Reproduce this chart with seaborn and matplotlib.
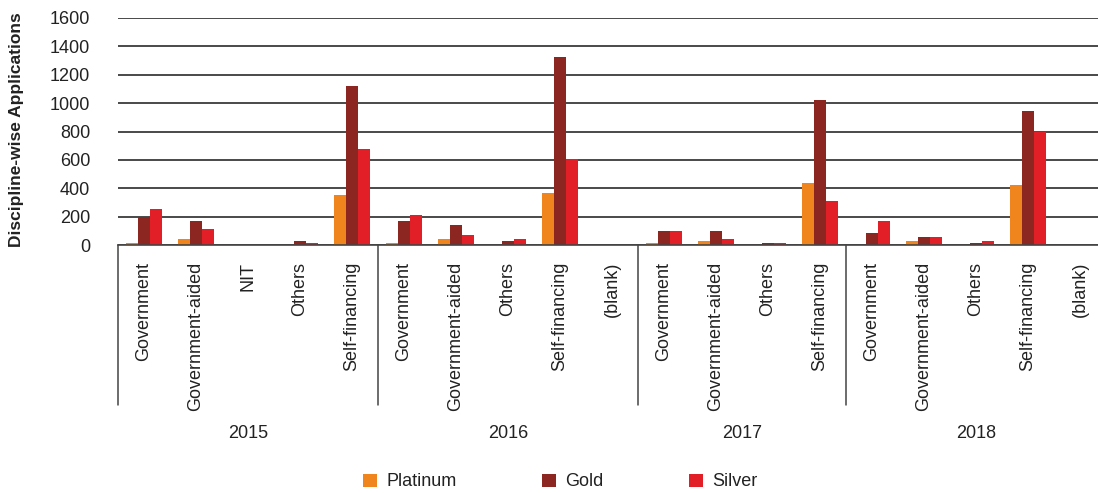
import pandas as pd
import matplotlib.pyplot as plt
import seaborn as sns


OUTPUT_FILE = "out.png"

# categories per year (multi-level x axis)
years = ["2015", "2016", "2017", "2018"]
year_categories = [
    ["Government", "Government-aided", "NIT", "Others", "Self-financing"],
    ["Government", "Government-aided", "Others", "Self-financing", "(blank)"],
    ["Government", "Government-aided", "Others", "Self-financing"],
    ["Government", "Government-aided", "Others", "Self-financing", "(blank)"],
]

series = ["Platinum", "Gold", "Silver"]

# values in slot order (2015 .. 2018, categories as above)
platinum = [15, 42, 0, 3, 355,
            14, 42, 3, 368, 0,
            14, 25, 1, 438,
            2, 28, 2, 422, 3]
gold = [200, 170, 3, 25, 1124,
        169, 143, 25, 1325, 3,
        96, 96, 14, 1025,
        84, 54, 14, 941, 0]
silver = [255, 112, 0, 14, 680,
          213, 70, 42, 608, 0,
          96, 42, 13, 310,
          169, 54, 25, 800, 0]

colors = ["#EF851C", "#8C2621", "#E21F26"]


##############################################################################
# TABLE
##############################################################################

slots = []
labels = []
for y, cats in zip(years, year_categories):
    for c in cats:
        slots.append(f"{y}|{c}")
        labels.append(c)

rows = []
for name, vals in zip(series, [platinum, gold, silver]):
    for s, v in zip(slots, vals):
        rows.append({"slot": s, "series": name, "value": v})
df = pd.DataFrame(rows)


##############################################################################
# PLOT
##############################################################################

sns.set_style("white")
plt.rcParams["font.family"] = ["Liberation Sans", "DejaVu Sans"]

FS = 13
TXT = "#222222"

fig = plt.figure(figsize=(10.98, 4.93), dpi=100)
ax = fig.add_axes([118 / 1098, 1 - 245 / 493, 988 / 1098, 227 / 493])

sns.barplot(
    data=df, x="slot", y="value", hue="series",
    order=slots, hue_order=series, palette=colors,
    width=0.7, ax=ax, legend=True, linewidth=0, saturation=1
)

ax.set_ylim(0, 1600)
ax.set_xlim(-0.5, len(slots) - 0.5)
ax.set_yticks(range(0, 1601, 200))
ax.yaxis.grid(True, color="#2a2a2a", linewidth=1.2)
ax.set_axisbelow(True)
for side in ["left", "right", "top"]:
    ax.spines[side].set_visible(False)
ax.spines["bottom"].set_color("#444444")
ax.spines["bottom"].set_linewidth(1.2)

ax.tick_params(axis="y", length=0, pad=20, labelsize=FS, labelcolor=TXT)
ax.tick_params(axis="x", length=0, pad=12, labelsize=FS, labelcolor=TXT)
ax.set_xticks(range(len(slots)))
ax.set_xticklabels(labels, rotation=90, va="top", ha="center")
ax.set_xlabel("")
ax.set_ylabel("")

fig.text(17 / 1098, 1 - 130 / 493, "Discipline-wise Applications",
         rotation=90, ha="center", va="center",
         fontsize=12.5, fontweight="bold", color=TXT)

# group separators and year labels
trans = ax.get_xaxis_transform()
start = 0
edges = [-0.5]
for y, cats in zip(years, year_categories):
    end = start + len(cats)
    edges.append(end - 0.5)
    ax.text((start + end - 1) / 2, -0.83, y, transform=trans,
            ha="center", va="center", fontsize=FS, color=TXT)
    start = end
for e in edges:
    ax.plot([e, e], [0, -0.705], transform=trans, color="#444444",
            linewidth=1.1, clip_on=False)

# legend: one entry per box, placed like the reference
handles, names = ax.get_legend_handles_labels()
ax.get_legend().remove()
legend_x = [363, 542, 689]
for h, n, lx in zip(handles, names, legend_x):
    leg = fig.legend(
        [h], [n], loc="center left",
        bbox_to_anchor=(lx / 1098, 1 - 482 / 493),
        frameon=False, fontsize=FS, handlelength=0.75, handleheight=0.75,
        handletextpad=0.55, borderpad=0, borderaxespad=0
    )
    for t in leg.get_texts():
        t.set_color(TXT)

plt.savefig(OUTPUT_FILE, dpi=100)
